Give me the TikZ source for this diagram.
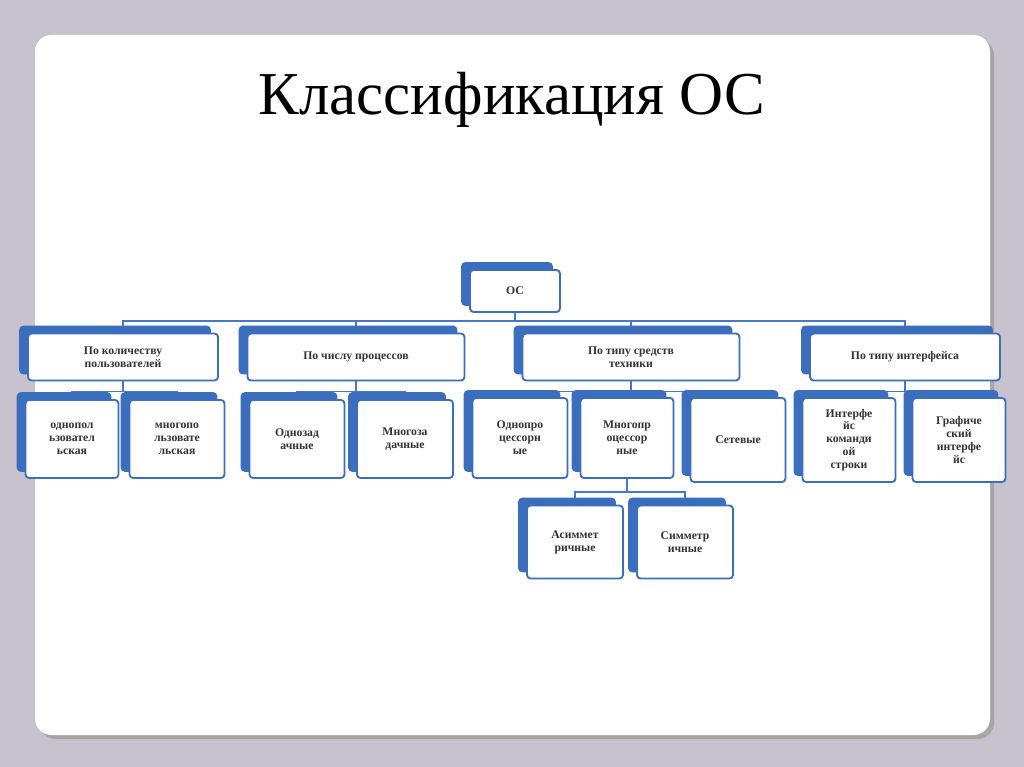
\documentclass[tikz,border=0pt]{standalone}
\usepackage{fontspec}
\setmainfont{Liberation Serif}
\usetikzlibrary{shadows,backgrounds}
\newlength\px \setlength\px{0.03cm}
\definecolor{slidebg}{RGB}{200,194,206}
\definecolor{boxblue}{RGB}{60,110,190}
\definecolor{linkblue}{RGB}{70,120,200}

\begin{document}
\begin{tikzpicture}[x=0.03cm,y=-0.03cm,line join=round]
	\tikzstyle{box}=[draw=boxblue,line width=1.6pt,fill=white,rounded corners=3pt,
		align=center,font=\fontsize{10}{11}\selectfont\bfseries,text=black!80,inner sep=1pt,
		copy shadow={shadow xshift=-8\px,shadow yshift=7\px,fill=boxblue,draw=boxblue}];
	\tikzstyle{link}=[draw=linkblue,line width=1.4pt];

	\node (title) at (512,100) {\fontsize{52}{56}\selectfont Классификация ОС};

	% boxes: centre and size
	\node[box,minimum width=90\px,minimum height=42\px] (os) at (515,291) {ОС};
	\node[box,minimum width=190\px,minimum height=47\px] (users) at (123,357) {По количеству\\пользователей};
	\node[box,minimum width=217\px,minimum height=47\px] (procs) at (356,357) {По числу процессов};
	\node[box,minimum width=217\px,minimum height=47\px] (hw) at (631,357) {По типу средств\\техники};
	\node[box,minimum width=190\px,minimum height=47\px] (ui) at (905,357) {По типу интерфейса};

	\node[box,minimum width=93\px,minimum height=78\px] (single) at (72,439) {однопол\\ьзовател\\ьская};
	\node[box,minimum width=95\px,minimum height=78\px] (multi) at (177,439) {многопо\\льзовате\\льская};
	\node[box,minimum width=95\px,minimum height=78\px] (onetask) at (297,439) {Однозад\\ачные};
	\node[box,minimum width=96\px,minimum height=78\px] (manytask) at (405,439) {Многоза\\дачные};
	\node[box,minimum width=95\px,minimum height=80\px] (onecpu) at (520,438) {Однопро\\цессорн\\ые};
	\node[box,minimum width=93\px,minimum height=80\px] (manycpu) at (627,438) {Многопр\\оцессор\\ные};
	\node[box,minimum width=95\px,minimum height=84\px] (net) at (738,440) {Сетевые};
	\node[box,minimum width=93\px,minimum height=84\px] (cli) at (849,440) {Интерфе\\йс\\команди\\ой\\строки};
	\node[box,minimum width=93\px,minimum height=84\px] (gui) at (959,440) {Графиче\\ский\\интерфе\\йс};

	\node[box,minimum width=96\px,minimum height=73\px] (asym) at (575,542) {Асиммет\\ричные};
	\node[box,minimum width=96\px,minimum height=73\px] (sym) at (685,542) {Симметр\\ичные};

	% slide and connectors behind the boxes
	\begin{pgfonlayer}{background}
	\fill[slidebg] (0,0) rectangle (1024,767);
	\fill[black!35,rounded corners=14pt] (39,39) rectangle (994,739);
	\fill[white,rounded corners=14pt] (35,35) rectangle (990,735);
	\foreach \c in {users,procs,hw,ui}
		\draw[link] (os.south) -- ++(0,8) -| (\c.north);
	\foreach \p/\a/\b in {users/single/multi,procs/onetask/manytask,ui/cli/gui}{
		\draw[link] (\p.south) -- ++(0,10) -| (\a.north);
		\draw[link] (\p.south) -- ++(0,10) -| (\b.north);
	}
	\foreach \c in {onecpu,manycpu,net}
		\draw[link] (hw.south) -- ++(0,10) -| (\c.north);
	\foreach \c in {asym,sym}
		\draw[link] (manycpu.south) -- ++(0,13) -| (\c.north);
	\end{pgfonlayer}
\end{tikzpicture}
\end{document}
